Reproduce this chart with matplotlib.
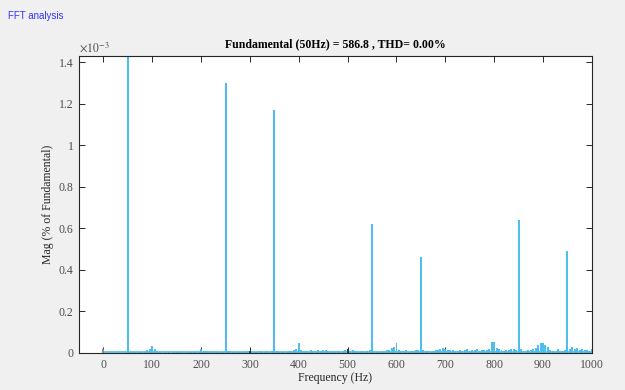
import matplotlib.pyplot as plt
import numpy as np

plt.rcParams['font.family'] = ['Liberation Serif', 'DejaVu Serif']
plt.rcParams['mathtext.fontset'] = 'stix'

# spectrum, 5 Hz bins from 0 to 1000 Hz, magnitude in units of 1e-3 (% of fundamental)
freq = np.arange(0, 1001, 5)
mag = [
    0.0, 0.002, 0.002, 0.002, 0.002, 0.002, 0.002, 0.002, 0.002, 0.002,      # 0-45
    1.5, 0.006, 0.004, 0.004, 0.005, 0.004, 0.005, 0.006, 0.012, 0.018,      # 50-95
    0.032, 0.02, 0.008, 0.003, 0.002, 0.003, 0.002, 0.004, 0.002, 0.003,     # 100-145
    0.006, 0.004, 0.003, 0.002, 0.004, 0.003, 0.004, 0.006, 0.005, 0.004,    # 150-195
    0.018, 0.01, 0.008, 0.01, 0.007, 0.004, 0.008, 0.005, 0.006, 0.004,     # 200-245
    1.30, 0.008, 0.007, 0.005, 0.004, 0.003, 0.004, 0.006, 0.004, 0.008,     # 250-295
    0.01, 0.005, 0.004, 0.006, 0.008, 0.006, 0.004, 0.007, 0.006, 0.009,     # 300-345
    1.17, 0.008, 0.005, 0.006, 0.004, 0.005, 0.008, 0.007, 0.012, 0.02,      # 350-395
    0.05, 0.015, 0.008, 0.01, 0.006, 0.012, 0.008, 0.006, 0.014, 0.008,      # 400-445
    0.015, 0.012, 0.008, 0.01, 0.006, 0.008, 0.01, 0.006, 0.008, 0.012,      # 450-495
    0.016, 0.01, 0.012, 0.008, 0.006, 0.005, 0.008, 0.006, 0.01, 0.012,      # 500-545
    0.62, 0.01, 0.006, 0.005, 0.004, 0.008, 0.012, 0.015, 0.022, 0.03,      # 550-595
    0.048, 0.015, 0.01, 0.008, 0.012, 0.006, 0.01, 0.008, 0.012, 0.015,     # 600-645
    0.46, 0.012, 0.01, 0.008, 0.006, 0.01, 0.012, 0.015, 0.018, 0.022,      # 650-695
    0.02, 0.015, 0.012, 0.016, 0.01, 0.008, 0.014, 0.01, 0.012, 0.018,      # 700-745
    0.01, 0.015, 0.012, 0.018, 0.01, 0.014, 0.016, 0.012, 0.02, 0.055,      # 750-795
    0.055, 0.025, 0.02, 0.012, 0.01, 0.016, 0.012, 0.02, 0.018, 0.015,      # 800-845
    0.64, 0.018, 0.01, 0.008, 0.016, 0.012, 0.02, 0.025, 0.04, 0.05,        # 850-895
    0.048, 0.04, 0.03, 0.015, 0.008, 0.006, 0.02, 0.01, 0.008, 0.015,       # 900-945
    0.49, 0.02, 0.03, 0.018, 0.022, 0.015, 0.018, 0.012, 0.014, 0.01,       # 950-995
    0.02,                                                                   # 1000
]

# small dark components
dark_freq = [0, 300, 500]
dark_mag = [0.02, 0.008, 0.018]

title = 'Fundamental (50Hz) = 586.8 , THD= 0.00%'

fig = plt.figure(figsize=(6.25, 3.9), dpi=100, facecolor='#f0f0f0')
ax = fig.add_axes([0.1264, 0.095, 0.8206, 0.762])
ax.set_facecolor('white')

ax.axhline(0.004, xmin=50 / 1050, xmax=1, color='#4dbeee', lw=1.2, zorder=1)
ax.bar(freq, mag, width=4, color='#4dbeee', linewidth=0, zorder=2)
ax.bar(dark_freq, dark_mag, width=4, color=['#8c8c8c', '#1f3f5f', '#1f3f5f'], linewidth=0, zorder=3)

ax.set_xlim(-50, 1000)
ax.set_ylim(0, 1.43)
ax.set_xticks(np.arange(0, 1001, 100))
ax.set_yticks(np.arange(0, 1.41, 0.2))
ax.set_yticklabels(['%g' % round(v, 1) for v in np.arange(0, 1.41, 0.2)])

for s in ax.spines.values():
    s.set_color('#262626')
    s.set_linewidth(0.8)
ax.tick_params(direction='in', length=4, width=0.7, top=True, right=True,
               labelsize=8.5, colors='#262626', labelcolor='#4d4d4d', pad=4)

ax.set_xlabel('Frequency (Hz)', fontsize=8.5, color='#262626', labelpad=1)
ax.set_ylabel('Mag (% of Fundamental)', fontsize=8.5, color='#262626', labelpad=3)
ax.set_title(title, fontsize=8.5, fontweight='bold', pad=6)
ax.text(0.0, 1.005, r'$\times10^{-3}$', transform=ax.transAxes, fontsize=8.5,
        color='#4d4d4d', ha='left', va='bottom')

fig.text(8 / 625, 1 - 16 / 390, 'FFT analysis', family='Liberation Sans',
         fontsize=7, color='#3333ff', va='center', ha='left')

fig.savefig('out.png', dpi=100, facecolor=fig.get_facecolor())
